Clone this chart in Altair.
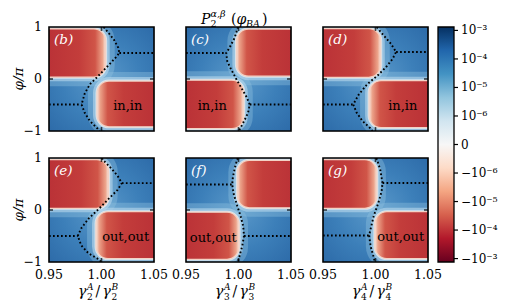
import altair as alt
import pandas as pd

# ---------------- data ----------------
X_DOMAIN = [0.95, 1.05]
Y_DOMAIN = [-1.0, 1.0]
X_TICKS = [0.95, 1.00, 1.05]
X_TICK_LABELS = ["0.95", "1.00", "1.05"]
Y_TICKS = [-1, 0, 1]
Y_TICK_LABELS = ["−1", "0", "1"]

PANELS = ["b", "c", "d", "e", "f", "g"]
TAGS = ["(b)", "(c)", "(d)", "(e)", "(f)", "(g)"]
STATES = ["in,in", "in,in", "in,in", "out,out", "out,out", "out,out"]
STATE_X = [1.025, 0.975, 1.026, 1.023, 0.976, 1.024]
STATE_Y = [-0.52, -0.52, -0.52, -0.52, -0.53, -0.52]
X_TITLE_SUB = ["2", "3", "4"]

# red lobes, rounded side facing right: [x0, x1, y0, y1]
LOBE_R = {
    "b": [0.92, 1.0040, 0.035, 0.965],
    "c": [0.92, 1.0050, -0.955, -0.022],
    "d": [0.92, 1.0050, 0.032, 0.968],
    "e": [0.92, 1.0068, 0.032, 0.968],
    "f": [0.92, 1.0005, -0.949, -0.042],
    "g": [0.92, 1.0013, 0.032, 0.968],
}
# red lobes, rounded side facing left: [x0, x1, y0, y1]
LOBE_L = {
    "b": [0.9957, 1.08, -0.920, -0.040],
    "c": [0.9980, 1.08, 0.054, 0.960],
    "d": [0.9939, 1.08, -0.935, -0.032],
    "e": [0.9948, 1.08, -0.935, -0.032],
    "f": [0.9989, 1.08, 0.042, 0.955],
    "g": [0.9994, 1.08, -0.935, -0.032],
}

CURVE_X = {
    "b": [1.002, 1.007, 1.012, 1.016, 1.017, 1.013, 1.006, 0.997, 0.989, 0.984, 0.981, 0.984, 0.989, 0.996, 0.998],
    "c": [0.9995, 0.9963, 0.9914, 0.9883, 0.9893, 0.9931, 0.9979, 1.0027, 1.0075, 1.0107, 1.0091, 1.0053, 1.0011, 1.0005],
    "d": [1.0015, 1.0019, 1.0083, 1.0147, 1.0196, 1.0163, 1.0099, 1.0019, 0.9923, 0.9843, 0.9788, 0.982, 0.9875, 0.9955, 0.997],
    "e": [1.0005, 1.0011, 1.009, 1.0153, 1.0194, 1.0153, 1.0058, 0.998, 0.9879, 0.9806, 0.9774, 0.9806, 0.9879, 0.998, 0.9995],
    "f": [0.9992, 0.9989, 0.9965, 0.9946, 0.994, 0.9955, 0.9989, 1.002, 1.0045, 1.0052, 1.0036, 1.001, 0.9997, 0.9995],
    "g": [1.001, 1.0013, 1.0045, 1.0067, 1.0058, 1.0026, 0.9981, 0.9939, 0.9955, 0.9987, 0.999],
}
CURVE_Y = {
    "b": [1.0, 0.88, 0.75, 0.6, 0.5, 0.4, 0.25, 0.06, -0.1, -0.28, -0.49, -0.65, -0.81, -0.95, -1.0],
    "c": [1.0, 0.79, 0.6, 0.5, 0.34, 0.18, 0.0, -0.17, -0.34, -0.49, -0.65, -0.81, -0.97, -1.0],
    "d": [1.0, 0.98, 0.826, 0.677, 0.52, 0.387, 0.226, 0.065, -0.097, -0.29, -0.49, -0.645, -0.806, -0.955, -1.0],
    "e": [1.0, 0.968, 0.806, 0.658, 0.516, 0.387, 0.194, 0.032, -0.161, -0.355, -0.5, -0.677, -0.839, -0.955, -1.0],
    "f": [1.0, 0.98, 0.81, 0.62, 0.49, 0.3, 0.073, -0.118, -0.31, -0.5, -0.69, -0.885, -0.98, -1.0],
    "g": [1.0, 0.98, 0.774, 0.52, 0.355, 0.129, -0.129, -0.49, -0.71, -0.935, -1.0],
}
# horizontal dotted segments: (y, x_from, x_to)
HSEG = {
    "b": [(0.5, 1.017, 1.05), (-0.49, 0.95, 0.981)],
    "c": [(0.5, 0.95, 0.9883), (-0.49, 1.0107, 1.05)],
    "d": [(0.52, 1.0196, 1.05), (-0.49, 0.95, 0.9788)],
    "e": [(0.516, 1.0194, 1.05), (-0.5, 0.95, 0.9774)],
    "f": [(0.49, 0.95, 0.994), (-0.5, 1.0052, 1.05)],
    "g": [(0.52, 1.0067, 1.05), (-0.49, 0.95, 0.9939)],
}

CBAR_LIM = [-4.12, 4.12]
CBAR_TICKS = [-4, -3, -2, -1, 0, 1, 2, 3, 4]
CBAR_LABELS = ["−10⁻³", "−10⁻⁴", "−10⁻⁵", "−10⁻⁶", "0", "10⁻⁶", "10⁻⁵", "10⁻⁴", "10⁻³"]
RDBU_TOP_DOWN = ["#053061", "#2166ac", "#4393c3", "#92c5de", "#d1e5f0", "#f7f7f7",
                 "#fddbc7", "#f4a582", "#d6604d", "#b2182b", "#67001f"]

# ---------------- styling ----------------
FONT = "DejaVu Serif"
W, H = 105, 104
ROW_GAP, COL_GAP = 27, 32
CBAR_H = 2 * H + ROW_GAP
RADIUS = 12

xscale = alt.Scale(domain=X_DOMAIN, nice=False, zero=False)
yscale = alt.Scale(domain=Y_DOMAIN, nice=False, zero=False)
cscale = alt.Scale(domain=CBAR_LIM, range=[CBAR_H, 0], nice=False, zero=False)

blue_bg = alt.Gradient(gradient="radial", x1=0.5, y1=0.5, r1=0, x2=0.5, y2=0.5, r2=0.75, stops=[
    alt.GradientStop(offset=0.0, color="#5a99ca"),
    alt.GradientStop(offset=0.5, color="#3c7fb9"),
    alt.GradientStop(offset=1.0, color="#2b68a6")])

RED_STOPS = [("#b22733", 0.0), ("#c33d3b", 0.7), ("#d05548", 0.88), ("#eca38a", 0.965), ("#f9e6dc", 1.0)]
red_right = alt.Gradient(gradient="linear", x1=0, x2=1, y1=0, y2=0,
                         stops=[alt.GradientStop(offset=o, color=c) for c, o in RED_STOPS])
red_left = alt.Gradient(gradient="linear", x1=1, x2=0, y1=0, y2=0,
                        stops=[alt.GradientStop(offset=o, color=c) for c, o in RED_STOPS])


def make_panel(i):
    pid = PANELS[i]
    row, col = divmod(i, 3)

    def X(f):
        return alt.X(f, type="quantitative", scale=xscale, axis=None)

    def Y(f):
        return alt.Y(f, type="quantitative", scale=yscale, axis=None)

    lr = LOBE_R[pid]
    ll = LOBE_L[pid]
    dfr = pd.DataFrame({"x0": [lr[0]], "x1": [lr[1]], "y0": [lr[2]], "y1": [lr[3]]})
    dfl = pd.DataFrame({"x0": [ll[0]], "x1": [ll[1]], "y0": [ll[2]], "y1": [ll[3]]})
    dfboth = pd.concat([dfr, dfl], ignore_index=True)
    dfbox = pd.DataFrame({"x0": [X_DOMAIN[0]], "x1": [X_DOMAIN[1]],
                          "y0": [Y_DOMAIN[0]], "y1": [Y_DOMAIN[1]]})

    rect_enc = dict(x=X("x0"), x2="x1", y=Y("y0"), y2="y1")

    bg = alt.Chart(dfbox).mark_rect(color=blue_bg).encode(**rect_enc)
    halo1 = alt.Chart(dfboth).mark_rect(cornerRadius=RADIUS, fillOpacity=0, stroke="#8fc0df",
                                        strokeWidth=18, strokeOpacity=0.4, clip=True).encode(**rect_enc)
    halo2 = alt.Chart(dfboth).mark_rect(cornerRadius=RADIUS, fillOpacity=0, stroke="#b9d9ec",
                                        strokeWidth=8, strokeOpacity=0.6, clip=True).encode(**rect_enc)
    halo3 = alt.Chart(dfboth).mark_rect(cornerRadius=RADIUS, fillOpacity=0, stroke="#e4eff5",
                                        strokeWidth=3, strokeOpacity=0.8, clip=True).encode(**rect_enc)
    red_r = alt.Chart(dfr).mark_rect(cornerRadius=RADIUS, color=red_right, clip=True).encode(**rect_enc)
    red_l = alt.Chart(dfl).mark_rect(cornerRadius=RADIUS, color=red_left, clip=True).encode(**rect_enc)
    rim = alt.Chart(dfboth).mark_rect(cornerRadius=RADIUS, fillOpacity=0, stroke="#f3d2c5",
                                      strokeWidth=1.3, clip=True).encode(**rect_enc)

    rows = []
    for k, (xv, yv) in enumerate(zip(CURVE_X[pid], CURVE_Y[pid])):
        rows.append({"x": xv, "y": yv, "seg": "curve", "o": k})
    for s, (yv, xa, xb) in enumerate(HSEG[pid]):
        rows.append({"x": xa, "y": yv, "seg": f"h{s}", "o": 0})
        rows.append({"x": xb, "y": yv, "seg": f"h{s}", "o": 1})
    dots = alt.Chart(pd.DataFrame(rows)).mark_line(color="black", strokeWidth=1.9,
                                                   strokeDash=[1.7, 2.3], clip=True).encode(
        x=X("x"), y=Y("y"), detail="seg:N", order="o:Q")

    dft = pd.DataFrame({"x": [1.0, 1.0, X_DOMAIN[0], X_DOMAIN[1]],
                        "y": [Y_DOMAIN[0], Y_DOMAIN[1], 0.0, 0.0],
                        "o": ["v", "v", "h", "h"]})
    vt = alt.Chart(dft).transform_filter("datum.o == 'v'").mark_tick(
        orient="vertical", size=8, thickness=1.6, color="black", clip=True).encode(x=X("x"), y=Y("y"))
    ht = alt.Chart(dft).transform_filter("datum.o == 'h'").mark_tick(
        orient="horizontal", size=8, thickness=1.6, color="black", clip=True).encode(x=X("x"), y=Y("y"))

    dtxt = pd.DataFrame({"x": [X_DOMAIN[0]], "y": [Y_DOMAIN[1]], "tag": [TAGS[i]],
                         "sx": [STATE_X[i]], "sy": [STATE_Y[i]], "st": [STATES[i]]})
    tag = alt.Chart(dtxt).mark_text(font=FONT, fontSize=13.5, fontStyle="italic", color="white",
                                    align="left", baseline="top", dx=5, dy=6).encode(
        x=X("x"), y=Y("y"), text="tag:N")
    state = alt.Chart(dtxt).mark_text(font=FONT, fontSize=13, color="black",
                                      align="center", baseline="middle").encode(
        x=X("sx"), y=Y("sy"), text="st:N")

    border = alt.Chart(dfbox).mark_rect(fillOpacity=0, stroke="black", strokeWidth=1.6).encode(**rect_enc)

    layers = [bg, halo1, halo2, halo3, red_r, red_l, rim, dots, vt, ht, tag, state, border]

    parts = pd.DataFrame({"a": [0]})

    def piece(txt, px, py, size, style="normal", angle=0, align="left"):
        return alt.Chart(parts).mark_text(text=txt, font=FONT, fontSize=size, fontStyle=style,
                                          angle=angle, align=align, baseline="alphabetic",
                                          color="black").encode(x=alt.value(px), y=alt.value(py))

    if col == 0:
        ylab = pd.DataFrame({"v": Y_TICKS, "lab": Y_TICK_LABELS})
        layers.append(alt.Chart(ylab).mark_text(font=FONT, fontSize=12.5, color="black", align="right",
                                                baseline="middle").encode(
            x=alt.value(-7), y=Y("v"), text="lab:N"))
        layers.append(piece("φ/π", -26, H / 2, 13.5, "italic", angle=270, align="center"))

    if row == 1:
        xlab = pd.DataFrame({"v": X_TICKS, "lab": X_TICK_LABELS})
        layers.append(alt.Chart(xlab).mark_text(font=FONT, fontSize=12.5, color="black", align="center",
                                                baseline="top").encode(
            x=X("v"), y=alt.value(H + 6.5), text="lab:N"))
        s = X_TITLE_SUB[col]
        b = H + 34
        layers += [
            piece("γ", 29, b, 14, "italic"),
            piece(s, 38, b + 3.5, 9),
            piece("A", 38, b - 6.5, 9, "italic"),
            piece("/", 46.5, b, 14),
            piece("γ", 53.5, b, 14, "italic"),
            piece(s, 62.5, b + 3.5, 9),
            piece("B", 62.5, b - 6.5, 9, "italic"),
        ]

    if pid == "c":
        layers += [
            piece("P", 15, -3.5, 14, "italic"),
            piece("2", 24.5, 0, 9.5),
            piece("α,β", 24.5, -10.5, 9.5, "italic"),
            piece("(", 45, -3.5, 14),
            piece("φ", 50.5, -3.5, 14, "italic"),
            piece("BA", 60, -0.5, 9.5, "italic"),
            piece(")", 76, -3.5, 14),
        ]

    chart = alt.layer(*layers)

    if pid == "d":
        cdf = pd.DataFrame({"lo": [CBAR_LIM[0]], "hi": [CBAR_LIM[1]]})
        tdf = pd.DataFrame({"v": CBAR_TICKS, "lab": CBAR_LABELS})
        grad = alt.Gradient(gradient="linear", x1=0, x2=0, y1=0, y2=1, stops=[
            alt.GradientStop(offset=k / (len(RDBU_TOP_DOWN) - 1), color=c)
            for k, c in enumerate(RDBU_TOP_DOWN)])
        bar = alt.Chart(cdf).mark_rect(color=grad, stroke="black", strokeWidth=1.3).encode(
            x=alt.value(W + 10), x2=alt.value(W + 26),
            y=alt.Y("lo:Q", scale=cscale, axis=None), y2="hi:Q")
        cticks = alt.Chart(tdf).mark_rule(color="black", strokeWidth=1.2).encode(
            x=alt.value(W + 26), x2=alt.value(W + 30),
            y=alt.Y("v:Q", scale=cscale, axis=None))
        clabs = alt.Chart(tdf).mark_text(font=FONT, fontSize=12, color="black", align="left",
                                         baseline="middle").encode(
            x=alt.value(W + 33), y=alt.Y("v:Q", scale=cscale, axis=None), text="lab:N")
        chart = alt.layer(chart, bar, cticks, clabs).resolve_scale(y="independent")

    return chart.properties(width=W, height=H)


panels = [make_panel(i) for i in range(6)]
chart = alt.concat(*panels, columns=3, spacing={"row": ROW_GAP, "column": COL_GAP},
                   bounds="flush").properties(
    padding={"left": 3, "top": 0, "right": 5, "bottom": 0}
).configure_view(strokeWidth=0).configure(background="white")

chart.save("out.html", embed_options={"renderer": "svg", "actions": False})
